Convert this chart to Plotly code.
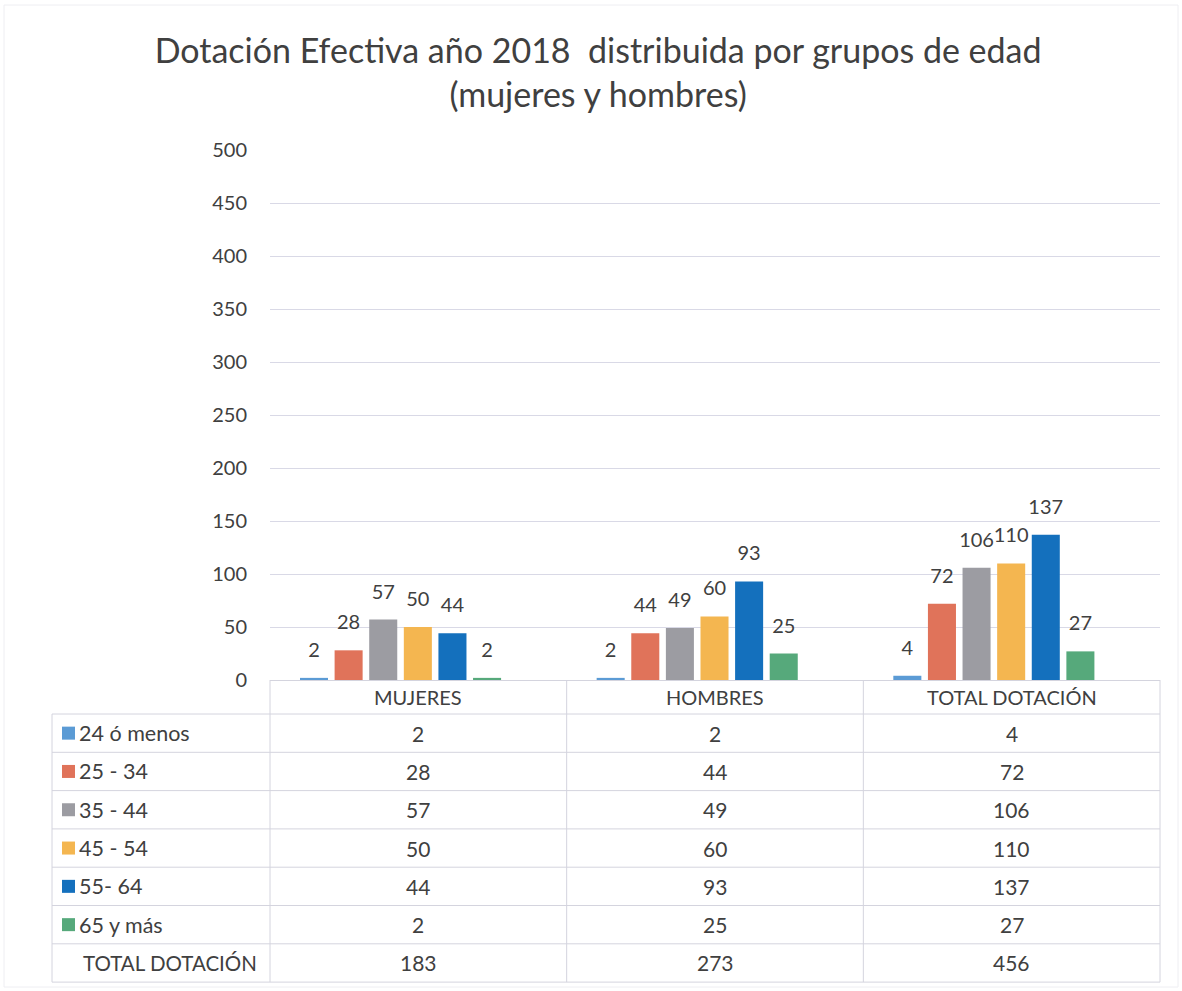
import plotly.graph_objects as go

# ---- data -------------------------------------------------------------
categories = ["MUJERES", "HOMBRES", "TOTAL DOTACIÓN"]
age_groups = ["24 ó menos", "25 - 34", "35 - 44", "45 - 54", "55- 64", "65 y más"]
mujeres = [2, 28, 57, 50, 44, 2]
hombres = [2, 44, 49, 60, 93, 25]
total_dotacion = [4, 72, 106, 110, 137, 27]
column_totals = [183, 273, 456]
total_label = "TOTAL DOTACIÓN"

colors = ["#5B9BD5", "#E0735A", "#9C9CA2", "#F4B650", "#1470BD", "#56A97B"]

# ---- page geometry (pixels) -------------------------------------------
W, H = 1182, 991
PL, PR, PT, PB = 270, 1160, 150, 680      # plot area edges
TABLE_LEFT = 52
ROW_TOP = 714
ROW_H = 38.3
TEXT = "#404040"
LINE = "#D4D4DE"
FONT = "Lato"
BAR_SHIFT = 0.06                           # bars sit slightly left of the table columns


def px(x):
    return (x - PL) / (PR - PL)


def py(y):
    return (PB - y) / (PB - PT)


def col_center(j):
    return (j + 0.5) / len(categories)


fig = go.Figure()

for i, grp in enumerate(age_groups):
    vals = [mujeres[i], hombres[i], total_dotacion[i]]
    fig.add_trace(go.Bar(
        x=categories,
        y=vals,
        name=grp,
        offsetgroup=str(i),
        marker=dict(color=colors[i], line=dict(width=0)),
        showlegend=False,
        hoverinfo="x+y+name",
    ))

# value labels floating above each bar
for i, grp in enumerate(age_groups):
    vals = [mujeres[i], hombres[i], total_dotacion[i]]
    fig.add_trace(go.Scatter(
        x=categories,
        y=vals,
        offsetgroup=str(i),
        mode="markers+text",
        marker=dict(size=24, opacity=0),
        text=[str(v) for v in vals],
        textposition="top center",
        textfont=dict(family=FONT, size=20, color=TEXT),
        cliponaxis=False,
        showlegend=False,
        hoverinfo="skip",
    ))

shapes = []
annotations = []

# table grid
n_rows = len(age_groups) + 1
table_bottom = ROW_TOP + n_rows * ROW_H
for k in range(n_rows + 1):
    yy = ROW_TOP + k * ROW_H
    shapes.append(dict(type="line", xref="paper", yref="paper",
                       x0=px(TABLE_LEFT), x1=px(PR), y0=py(yy), y1=py(yy),
                       line=dict(color=LINE, width=1)))
shapes.append(dict(type="line", xref="paper", yref="paper",
                   x0=px(TABLE_LEFT), x1=px(TABLE_LEFT),
                   y0=py(ROW_TOP), y1=py(table_bottom),
                   line=dict(color=LINE, width=1)))
for j in range(len(categories) + 1):
    xb = j / len(categories)
    shapes.append(dict(type="line", xref="paper", yref="paper",
                       x0=xb, x1=xb, y0=py(PB), y1=py(table_bottom),
                       line=dict(color=LINE, width=1)))

# row labels with colour keys
for i, grp in enumerate(age_groups):
    yc = ROW_TOP + (i + 0.5) * ROW_H
    shapes.append(dict(type="rect", xref="paper", yref="paper",
                       x0=px(62), x1=px(75), y0=py(yc + 6.5), y1=py(yc - 6.5),
                       fillcolor=colors[i], line=dict(width=0)))
    annotations.append(dict(x=px(77), y=py(yc), xref="paper", yref="paper",
                            text=grp, showarrow=False, xanchor="left", yanchor="middle",
                            font=dict(family=FONT, size=21.5, color=TEXT)))
    row_vals = [mujeres[i], hombres[i], total_dotacion[i]]
    for j, v in enumerate(row_vals):
        annotations.append(dict(x=col_center(j), y=py(yc), xref="paper", yref="paper",
                                text=str(v), showarrow=False,
                                xanchor="center", yanchor="middle",
                                font=dict(family=FONT, size=21, color=TEXT)))

yc = ROW_TOP + (n_rows - 0.5) * ROW_H
annotations.append(dict(x=px(81), y=py(yc), xref="paper", yref="paper",
                        text=total_label, showarrow=False, xanchor="left", yanchor="middle",
                        font=dict(family=FONT, size=20.5, color=TEXT)))
for j, v in enumerate(column_totals):
    annotations.append(dict(x=col_center(j), y=py(yc), xref="paper", yref="paper",
                            text=str(v), showarrow=False,
                            xanchor="center", yanchor="middle",
                            font=dict(family=FONT, size=21, color=TEXT)))

# category header labels
for j, c in enumerate(categories):
    annotations.append(dict(x=col_center(j), y=py(697), xref="paper", yref="paper",
                            text=c, showarrow=False, xanchor="center", yanchor="middle",
                            font=dict(family=FONT, size=20, color=TEXT)))

# faint outer frame
shapes.append(dict(type="rect", xref="paper", yref="paper",
                   x0=px(4), x1=px(1178), y0=py(5), y1=py(987),
                   line=dict(color="#EEEEF2", width=1)))

fig.update_layout(
    width=W, height=H,
    margin=dict(l=PL, r=W - PR, t=PT, b=H - PB, pad=0),
    paper_bgcolor="white",
    plot_bgcolor="white",
    barmode="group",
    bargap=0.30,
    bargroupgap=0.19,
    scattermode="group",
    scattergap=0.30,
    title=dict(
        text="Dotación Efectiva año 2018  distribuida por grupos de edad<br>(mujeres y hombres)",
        x=0.506, xanchor="center", y=1 - 63 / H, yanchor="middle",
        font=dict(family=FONT, size=34, color=TEXT),
    ),
    font=dict(family=FONT, color=TEXT),
    shapes=shapes,
    annotations=annotations,
    hovermode="closest",
)

fig.update_yaxes(
    range=[0, 500], dtick=50,
    showgrid=True, gridcolor="#D9D9E6", gridwidth=1,
    zeroline=False, showline=False,
    tickfont=dict(family=FONT, size=20, color=TEXT),
    ticks="", ticklabelstandoff=22,
)
fig.update_xaxes(
    range=[-0.5 + BAR_SHIFT, 2.5 + BAR_SHIFT],
    showticklabels=False,
    showline=True, linecolor=LINE, linewidth=1,
    showgrid=False, zeroline=False,
)

fig.write_html("out.html")
